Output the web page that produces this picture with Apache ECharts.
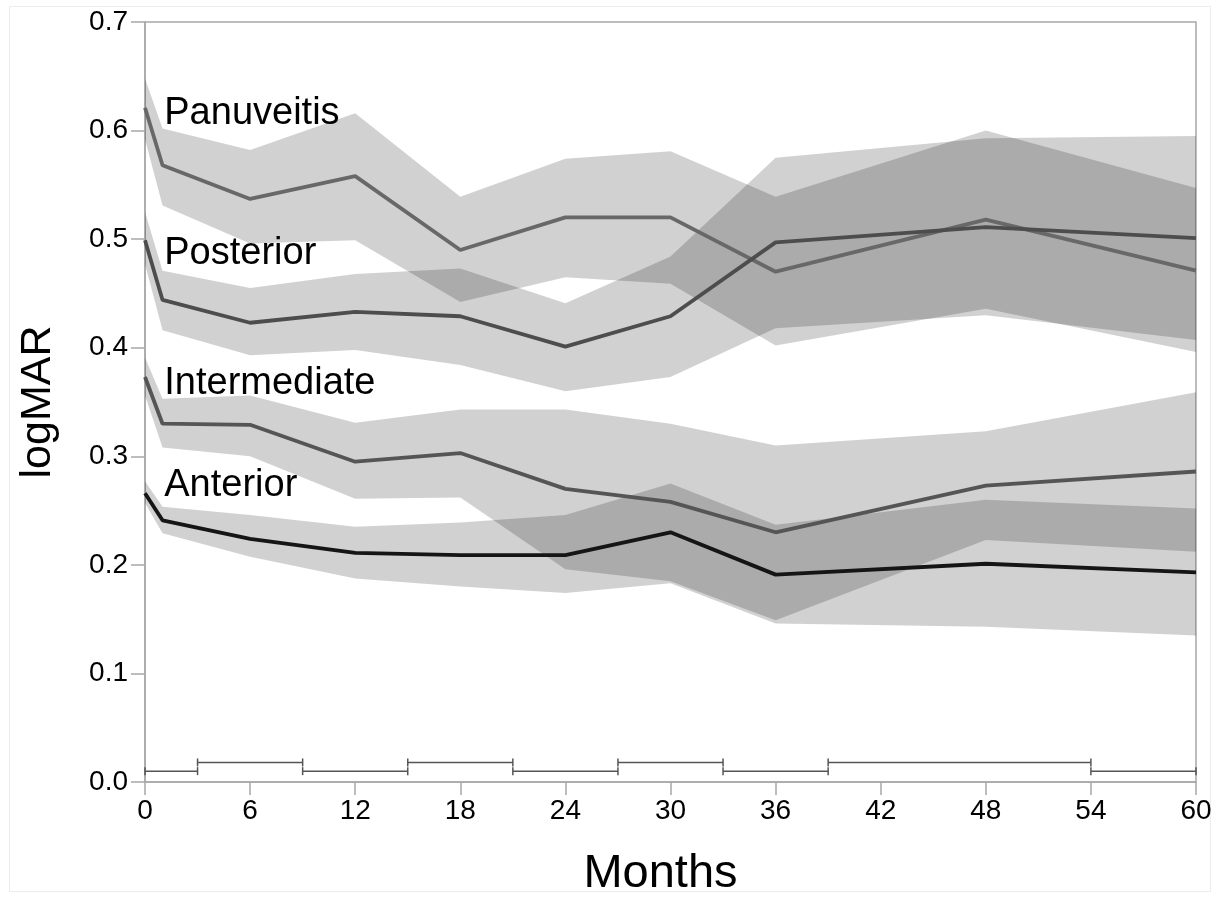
<!DOCTYPE html>
<html>
<head>
<meta charset="utf-8">
<script src="https://cdn.jsdelivr.net/npm/echarts@6/dist/echarts.min.js"></script>
<style>
  html, body { margin: 0; padding: 0; background: #fff; }
  #chart { width: 1226px; height: 899px; }
</style>
</head>
<body>
<div id="chart"></div>
<script>
// months of follow-up
var months = [0, 1, 6, 12, 18, 24, 30, 36, 48, 60];

// mean logMAR and band limits per uveitis type
var panMean  = [0.621, 0.568, 0.537, 0.558, 0.490, 0.520, 0.520, 0.470, 0.518, 0.471];
var panUpper = [0.648, 0.602, 0.582, 0.616, 0.539, 0.574, 0.581, 0.539, 0.600, 0.547];
var panLower = [0.592, 0.531, 0.496, 0.499, 0.442, 0.465, 0.459, 0.402, 0.436, 0.396];

var postMean  = [0.499, 0.444, 0.423, 0.433, 0.429, 0.401, 0.429, 0.497, 0.511, 0.501];
var postUpper = [0.525, 0.471, 0.455, 0.468, 0.473, 0.441, 0.484, 0.575, 0.593, 0.595];
var postLower = [0.477, 0.416, 0.393, 0.398, 0.384, 0.360, 0.373, 0.418, 0.430, 0.407];

var intMean  = [0.373, 0.330, 0.329, 0.295, 0.303, 0.270, 0.258, 0.230, 0.273, 0.286];
var intUpper = [0.391, 0.353, 0.356, 0.331, 0.343, 0.343, 0.330, 0.310, 0.323, 0.359];
var intLower = [0.356, 0.308, 0.300, 0.261, 0.262, 0.196, 0.185, 0.149, 0.223, 0.212];

var antMean  = [0.266, 0.241, 0.224, 0.211, 0.209, 0.209, 0.230, 0.191, 0.201, 0.193];
var antUpper = [0.277, 0.2535, 0.246, 0.235, 0.239, 0.246, 0.275, 0.237, 0.260, 0.252];
var antLower = [0.257, 0.229, 0.2075, 0.1875, 0.180, 0.174, 0.183, 0.146, 0.143, 0.135];

// text labels next to the curves
var labelNames = ['Panuveitis', 'Posterior', 'Intermediate', 'Anterior'];
var labelX = [1.1, 1.1, 1.1, 1.1];
var labelY = [0.616, 0.487, 0.367, 0.273];

// visit windows shown along the bottom
var winStart = [0, 3, 9, 15, 21, 27, 33, 39, 54];
var winEnd   = [3, 9, 15, 21, 27, 33, 39, 54, 60];
var winLevel = [0.010, 0.018, 0.010, 0.018, 0.010, 0.018, 0.010, 0.018, 0.010];

var FONT = '"Liberation Sans", Arial, Helvetica, sans-serif';
var AXIS = '#a8a8a8';
var BAND = 'rgba(0,0,0,0.18)';

function pairs(ys) {
    return months.map(function (m, i) { return [m, ys[i]]; });
}

// one polygon per band, drawn when the first row is rendered
function bandSeries(lo, hi) {
    return {
        type: 'custom', silent: true, z: 1,
        data: months.map(function (m, i) { return [m, lo[i], hi[i]]; }),
        renderItem: function (params, api) {
            if (params.dataIndex !== 0) return null;
            var top = [], bottom = [];
            for (var i = 0; i < months.length; i++) {
                top.push(api.coord([months[i], hi[i]]));
                bottom.unshift(api.coord([months[i], lo[i]]));
            }
            return {
                type: 'polygon',
                shape: { points: top.concat(bottom) },
                style: { fill: BAND, stroke: null }
            };
        }
    };
}

function meanSeries(name, ys, color) {
    return {
        name: name, type: 'line', data: pairs(ys), symbol: 'none', silent: true,
        lineStyle: { color: color, width: 3.8 }, z: 3
    };
}

var series = [
    bandSeries(panLower, panUpper),
    bandSeries(postLower, postUpper),
    bandSeries(intLower, intUpper),
    bandSeries(antLower, antUpper),
    meanSeries('Panuveitis', panMean, '#686868'),
    meanSeries('Posterior', postMean, '#4d4d4d'),
    meanSeries('Intermediate', intMean, '#555555'),
    meanSeries('Anterior', antMean, '#151515')
];

// window brackets
series.push({
    type: 'custom', silent: true, z: 4,
    data: winStart.map(function (s, i) { return [s, winEnd[i], winLevel[i]]; }),
    renderItem: function (params, api) {
        var a = api.coord([api.value(0), api.value(2)]);
        var b = api.coord([api.value(1), api.value(2)]);
        var st = { stroke: '#555', lineWidth: 1.5 };
        return {
            type: 'group',
            children: [
                { type: 'line', shape: { x1: a[0], y1: a[1], x2: b[0], y2: b[1] }, style: st },
                { type: 'line', shape: { x1: a[0], y1: a[1] - 4, x2: a[0], y2: a[1] + 4 }, style: st },
                { type: 'line', shape: { x1: b[0], y1: b[1] - 4, x2: b[0], y2: b[1] + 4 }, style: st }
            ]
        };
    }
});

// curve names
series.push({
    type: 'scatter', silent: true, symbolSize: 0, z: 5,
    itemStyle: { color: '#000', opacity: 1 },
    data: labelNames.map(function (n, i) { return { name: n, value: [labelX[i], labelY[i]] }; }),
    label: {
        show: true, position: 'right', distance: 0, opacity: 1,
        formatter: '{b}', color: '#000', textBorderWidth: 0,
        fontSize: 38, fontFamily: FONT
    }
});

var chart = echarts.init(document.getElementById('chart'));
chart.setOption({
    animation: false,
    backgroundColor: '#fff',
    graphic: [{
        type: 'rect', silent: true,
        shape: { x: 9.5, y: 6.5, width: 1201, height: 885 },
        style: { fill: 'none', stroke: '#ececec', lineWidth: 1 }
    }],
    grid: {
        left: 145, right: 30, top: 22, bottom: 117,
        containLabel: false, outerBoundsMode: 'none',
        show: true, borderColor: AXIS, borderWidth: 1.5, backgroundColor: 'transparent'
    },
    xAxis: {
        type: 'value', min: 0, max: 60, interval: 6,
        name: 'Months', nameLocation: 'middle', nameGap: 69,
        nameTextStyle: { fontSize: 47, fontFamily: FONT, color: '#000', padding: [0, 20, 0, 0] },
        axisLine: { lineStyle: { color: AXIS, width: 1.5 } },
        axisTick: { inside: false, length: 13, lineStyle: { color: AXIS, width: 1.5 } },
        axisLabel: { fontSize: 28, fontFamily: FONT, color: '#000', margin: 15 },
        splitLine: { show: false }
    },
    yAxis: {
        type: 'value', min: 0, max: 0.7, interval: 0.1,
        name: 'logMAR', nameLocation: 'middle', nameGap: 85, nameRotate: 90,
        nameTextStyle: { fontSize: 43, fontFamily: FONT, color: '#000' },
        axisLine: { show: true, lineStyle: { color: AXIS, width: 1.5 } },
        axisTick: { show: true, inside: false, length: 14, lineStyle: { color: AXIS, width: 1.5 } },
        axisLabel: {
            fontSize: 28, fontFamily: FONT, color: '#000', margin: 17,
            formatter: function (v) { return v.toFixed(1); }
        },
        splitLine: { show: false }
    },
    series: series
});
</script>
</body>
</html>
